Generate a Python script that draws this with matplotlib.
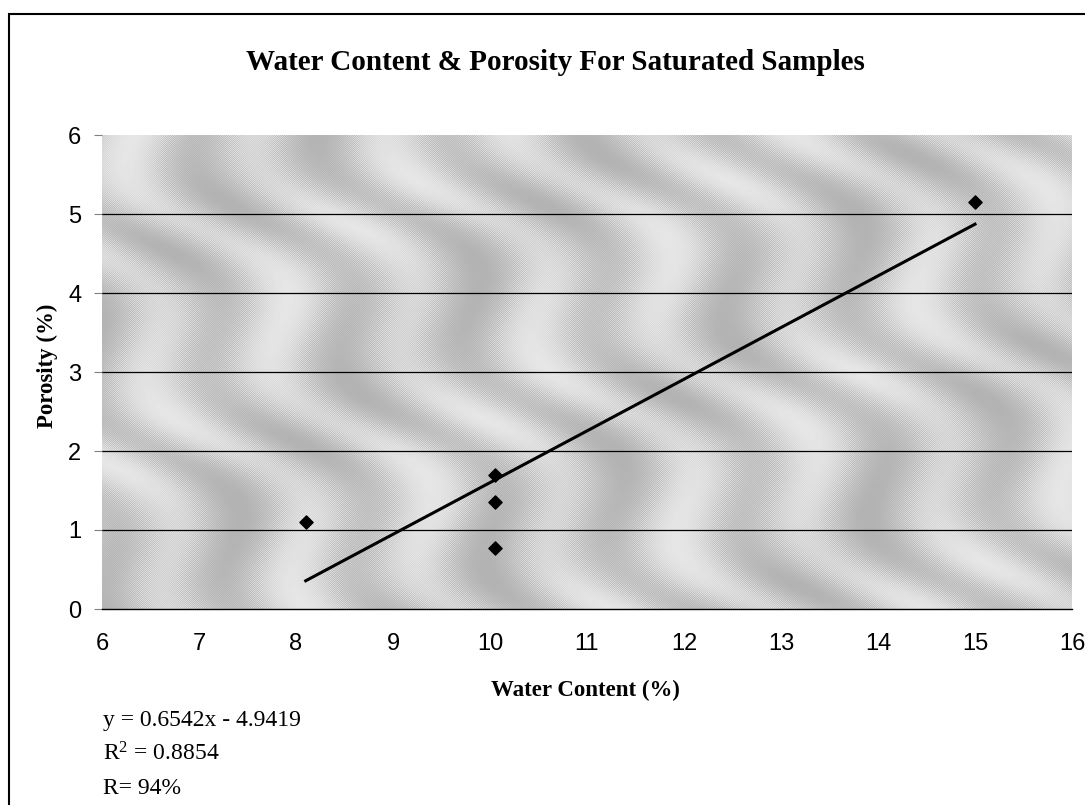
import numpy as np
import matplotlib
matplotlib.use("Agg")
import matplotlib.pyplot as plt
from matplotlib.patches import Rectangle

# Data
water_content = [8.1, 10.05, 10.05, 10.05, 15.0]
porosity = [1.1, 1.7, 1.35, 0.77, 5.15]
slope = 0.6542
intercept = -4.9419
x_ticks = [6, 7, 8, 9, 10, 11, 12, 13, 14, 15, 16]
y_ticks = [0, 1, 2, 3, 4, 5, 6]
title = "Water Content & Porosity For Saturated Samples"
xlabel = "Water Content (%)"
ylabel = "Porosity (%)"
eq_lines = ["y = 0.6542x - 4.9419", r"R$^{2}$ = 0.8854", "R= 94%"]

plt.rcParams["mathtext.fontset"] = "custom"
plt.rcParams["mathtext.rm"] = "Liberation Serif"
plt.rcParams["mathtext.it"] = "Liberation Serif"
plt.rcParams["mathtext.default"] = "rm"

fig = plt.figure(figsize=(10.85, 8.05), dpi=100)
fig.patch.set_facecolor("white")

# outer frame (extends beyond right/bottom edges like the reference)
fig.add_artist(Rectangle((9/1085, -0.05), 1.2, 1 - 14/805 + 0.05,
                         transform=fig.transFigure, fill=False,
                         edgecolor="black", linewidth=1.5))

ax = fig.add_axes([102/1085, 1 - 609/805, (1072 - 102)/1085, (609 - 135)/805])
ax.set_xlim(6, 16)
ax.set_ylim(0, 6)

# textured gray background (decorative wavy pattern with fine grain)
W, H = 970, 474
gx, gy = np.meshgrid(np.linspace(0, 1, W), np.linspace(0, 1, H))
band = np.sin(2 * np.pi * (7 * gx - 2.5 * gy) + 1.8 * np.sin(2 * np.pi * 2.2 * gy + 3 * gx))
band2 = np.sin(2 * np.pi * (3 * gx + 1.5 * gy) + 1.0)
tex = 0.55 * band + 0.25 * band2
tex = (tex - tex.min()) / (tex.max() - tex.min())
ii, jj = np.meshgrid(np.arange(W), np.arange(H))
checker = ((ii + jj) % 2) * 2 - 1
tex = 0.70 + 0.20 * tex + 0.05 * checker * (1 - np.abs(2 * tex - 1))
ax.imshow(tex, cmap="gray", vmin=0, vmax=1, extent=(6, 16, 0, 6),
          aspect="auto", origin="upper", zorder=0, interpolation="nearest")

for yv in y_ticks[1:-1]:
    ax.axhline(yv, color="black", linewidth=0.9, zorder=1)

xs = np.array([min(water_content), max(water_content)])
ax.plot(xs, slope * xs + intercept, color="black", linewidth=2.2, zorder=2)
ax.scatter(water_content, porosity, marker="D", s=45, color="black", zorder=3)

for side in ["top", "right", "left"]:
    ax.spines[side].set_visible(False)
ax.spines["bottom"].set_color("black")
ax.spines["bottom"].set_linewidth(1.0)

ax.set_xticks(x_ticks)
ax.set_yticks(y_ticks)
ax.tick_params(axis="x", length=0, pad=17, labelsize=17)
ax.tick_params(axis="y", length=6, width=0.8, color="gray", pad=9, labelsize=17)
for lab in ax.get_xticklabels() + ax.get_yticklabels():
    lab.set_fontfamily("Liberation Sans")

fig.text(555/1085, 1 - 62/805, title, ha="center", va="center",
         fontsize=21, fontweight="bold", family="Liberation Serif")
fig.text(585/1085, 1 - 690/805, xlabel, ha="center", va="center",
         fontsize=16.5, fontweight="bold", family="Liberation Serif")
fig.text(47/1085, 1 - 366/805, ylabel, ha="center", va="center", rotation=90,
         fontsize=16.5, fontweight="bold", family="Liberation Serif")

for i, line in enumerate(eq_lines):
    fig.text(103/1085, 1 - (720 + 34 * i)/805, line, ha="left", va="center",
             fontsize=17, family="Liberation Serif")

fig.savefig("out.png", dpi=100)
